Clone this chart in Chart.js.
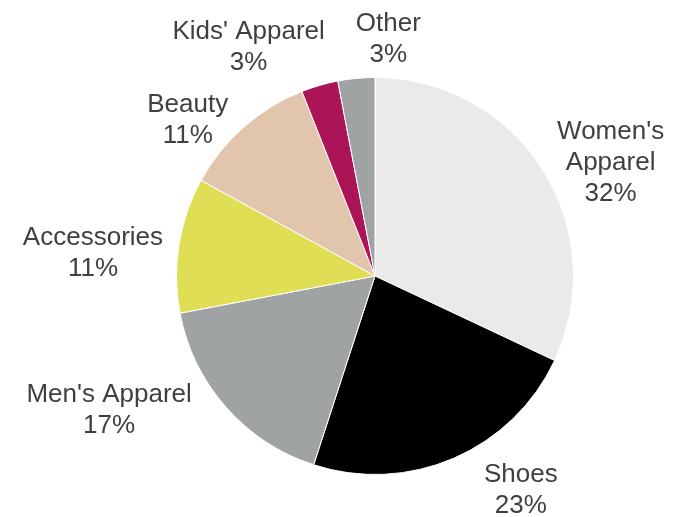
<!DOCTYPE html>
<html>
<head>
<meta charset="utf-8">
<script src="https://cdn.jsdelivr.net/npm/chart.js@4"></script>
<style>
  html, body { margin: 0; padding: 0; background: #fff; }
  #wrap { width: 685px; height: 517px; }
</style>
</head>
<body>
<div id="wrap"><canvas id="pie" width="685" height="517"></canvas></div>
<script>
'use strict';

// data
const categories = ["Women's Apparel", 'Shoes', "Men's Apparel", 'Accessories', 'Beauty', "Kids' Apparel", 'Other'];
const shares = [32, 23, 17, 11, 11, 3, 3];
const sliceColors = ['#EAEAEA', '#000000', '#A0A3A4', '#E0DE55', '#E1C6AD', '#AB1457', '#A0A3A4'];

// how labels break over lines
const wrapped = { "Women's Apparel": ["Women's", 'Apparel'] };

// label nudges (px) from the arc's outer mid point, like Excel's outside-end labels
const labelNudge = [[68, -7], [67, 32], [-117, 3], [-86, 8], [-56, -7], [-71, -38], [32, -39]];

/* Draws "name / pct%" outside each slice. */
const outsideLabels = {
    id: 'outsideLabels',
    afterDatasetsDraw(chart) {
        const ctx = chart.ctx;
        const meta = chart.getDatasetMeta(0);
        ctx.save();
        ctx.font = "26px 'Liberation Sans', Arial, sans-serif";
        ctx.fillStyle = '#404040';
        ctx.textAlign = 'center';
        ctx.textBaseline = 'middle';
        meta.data.forEach(function (arc, i) {
            const mid = (arc.startAngle + arc.endAngle) / 2;
            const ax = arc.x + Math.cos(mid) * arc.outerRadius;
            const ay = arc.y + Math.sin(mid) * arc.outerRadius;
            const name = categories[i];
            const lines = (wrapped[name] || [name]).concat([shares[i] + '%']);
            const lh = 31;
            const cx = ax + labelNudge[i][0];
            const cy = ay + labelNudge[i][1] - (lines.length - 1) * lh / 2;
            lines.forEach(function (t, k) { ctx.fillText(t, cx, cy + k * lh); });
        });
        ctx.restore();
    }
};

new Chart(document.getElementById('pie'), {
    type: 'pie',
    data: {
        labels: categories,
        datasets: [{
            data: shares,
            backgroundColor: sliceColors,
            borderColor: '#ffffff',
            borderWidth: 1,
        }],
    },
    options: {
        responsive: false,
        animation: false,
        layout: { padding: { left: 176, top: 77, right: 111, bottom: 42 } },
        plugins: {
            legend: { display: false },
            tooltip: { enabled: false },
        },
    },
    plugins: [outsideLabels],
});
</script>
</body>
</html>
